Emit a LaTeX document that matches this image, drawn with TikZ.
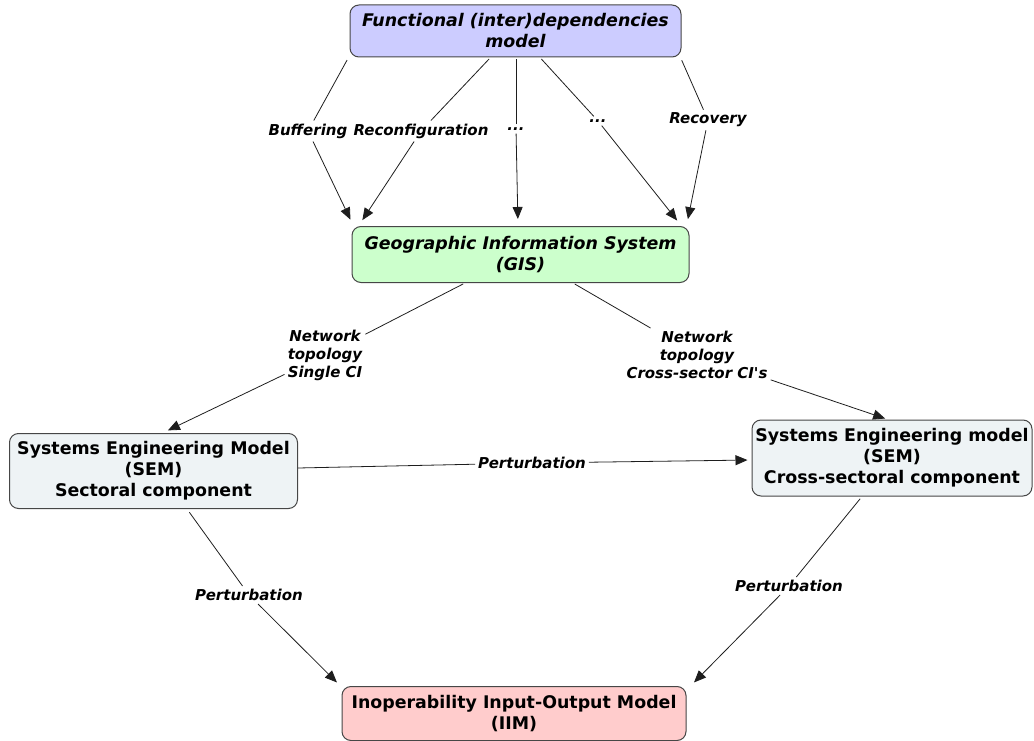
\documentclass[tikz,border=0pt]{standalone}
\usepackage{fontspec}
\newfontfamily\diagfont{DejaVu Sans}
\usetikzlibrary{arrows.meta}
\definecolor{fdmfill}{RGB}{204,204,255}
\definecolor{gisfill}{RGB}{204,255,204}
\definecolor{semfill}{RGB}{238,243,245}
\definecolor{iimfill}{RGB}{255,204,204}
\definecolor{rim}{RGB}{70,70,70}
\definecolor{wire}{RGB}{30,30,30}
\begin{document}
\begin{tikzpicture}[x=1pt,y=-1pt,
  concept/.style={draw=rim, line width=1pt, rounded corners=9pt, align=center,
    inner sep=0pt, font=\diagfont\fontsize{17.4}{21}\selectfont\bfseries},
  slanted/.style={font=\diagfont\fontsize{17.4}{21}\selectfont\bfseries\itshape},
  linklabel/.style={font=\diagfont\fontsize{15}{18}\selectfont\bfseries\itshape,
    align=center, inner sep=3pt},
  link/.style={draw=wire, line width=0.8pt},
  arrowlink/.style={link, -{Triangle[length=12pt,width=10pt]}}]
\useasboundingbox (0,0) rectangle (1034,741);

% concepts
\node[concept, slanted, fill=fdmfill, minimum width=331pt, minimum height=52pt]
  (fdm) at (515.5,31) {Functional (inter)dependencies\\model};
\node[concept, slanted, fill=gisfill, minimum width=337pt, minimum height=56pt]
  (gis) at (520.5,254.5) {Geographic Information System\\(GIS)};
\node[concept, fill=semfill, minimum width=288pt, minimum height=75pt]
  (semL) at (153.5,471) {Systems Engineering Model\\(SEM)\\Sectoral component};
\node[concept, fill=semfill, minimum width=280pt, minimum height=76pt]
  (semR) at (892,458) {Systems Engineering model\\(SEM)\\Cross-sectoral component};
\node[concept, fill=iimfill, minimum width=344pt, minimum height=54pt]
  (iim) at (514,713.5) {Inoperability Input-Output Model\\(IIM)};

% linking phrases
\node[linklabel] (lbBuf) at (308,131) {Buffering};
\node[linklabel] (lbRec) at (421,131) {Reconfiguration};
\node[linklabel] (lbDotA) at (516,129) {...};
\node[linklabel] (lbDotB) at (598,121) {...};
\node[linklabel] (lbRcv) at (708,120) {Recovery};
\node[linklabel] (lbNetA) at (325,355) {Network\\topology\\Single CI};
\node[linklabel] (lbNetB) at (697,355) {Network\\topology\\Cross-sector CI's};
\node[linklabel] (lbPertM) at (532,463) {Perturbation};
\node[linklabel] (lbPertL) at (249,595) {Perturbation};
\node[linklabel] (lbPertR) at (789,586) {Perturbation};

% model -> GIS
\draw[link, shorten <=3pt] ([xshift=-167pt]fdm.south) -- (lbBuf);
\draw[arrowlink, shorten >=7pt] (lbBuf) -- ([xshift=-167pt]gis.north);
\draw[link, shorten <=2pt] ([xshift=-25pt]fdm.south) -- (lbRec);
\draw[arrowlink, shorten >=7pt] (lbRec) -- ([xshift=-162pt]gis.north);
\draw[link, shorten <=2pt] ([xshift=0.5pt]fdm.south) -- (lbDotA);
\draw[arrowlink, shorten >=7pt] (lbDotA) -- ([xshift=-2.5pt]gis.north);
\draw[link, shorten <=2pt] ([xshift=24.5pt]fdm.south) -- (lbDotB);
\draw[arrowlink, shorten >=7pt] (lbDotB) -- ([xshift=161pt]gis.north);
\draw[link, shorten <=3pt] ([xshift=165pt]fdm.south) -- (lbRcv);
\draw[arrowlink, shorten >=7pt] (lbRcv) -- ([xshift=166pt]gis.north);

% GIS -> SEMs
\draw[link, shorten <=2pt] ([xshift=-55.5pt]gis.south) -- (lbNetA);
\draw[arrowlink, shorten >=6pt] (lbNetA) -- ([xshift=9pt]semL.north);
\draw[link, shorten <=2pt] ([xshift=52.5pt]gis.south) -- (lbNetB);
\draw[arrowlink, shorten >=3pt] (lbNetB) -- ([xshift=-4pt]semR.north);

% SEM -> SEM
\draw[link] ([yshift=3pt]semL.east) -- (lbPertM);
\draw[arrowlink, shorten >=4pt] (lbPertM) -- ([yshift=-2pt]semR.west);

% SEMs -> IIM
\draw[link, shorten <=4pt] ([xshift=33.5pt]semL.south) -- (lbPertL);
\draw[arrowlink, shorten >=5pt] (lbPertL) -- ([xshift=-1pt]iim.north west);
\draw[link, shorten <=3pt] ([xshift=-30pt]semR.south) -- (lbPertR);
\draw[arrowlink, shorten >=5pt] (lbPertR) -- ([xshift=4pt]iim.north east);
\end{tikzpicture}
\end{document}
